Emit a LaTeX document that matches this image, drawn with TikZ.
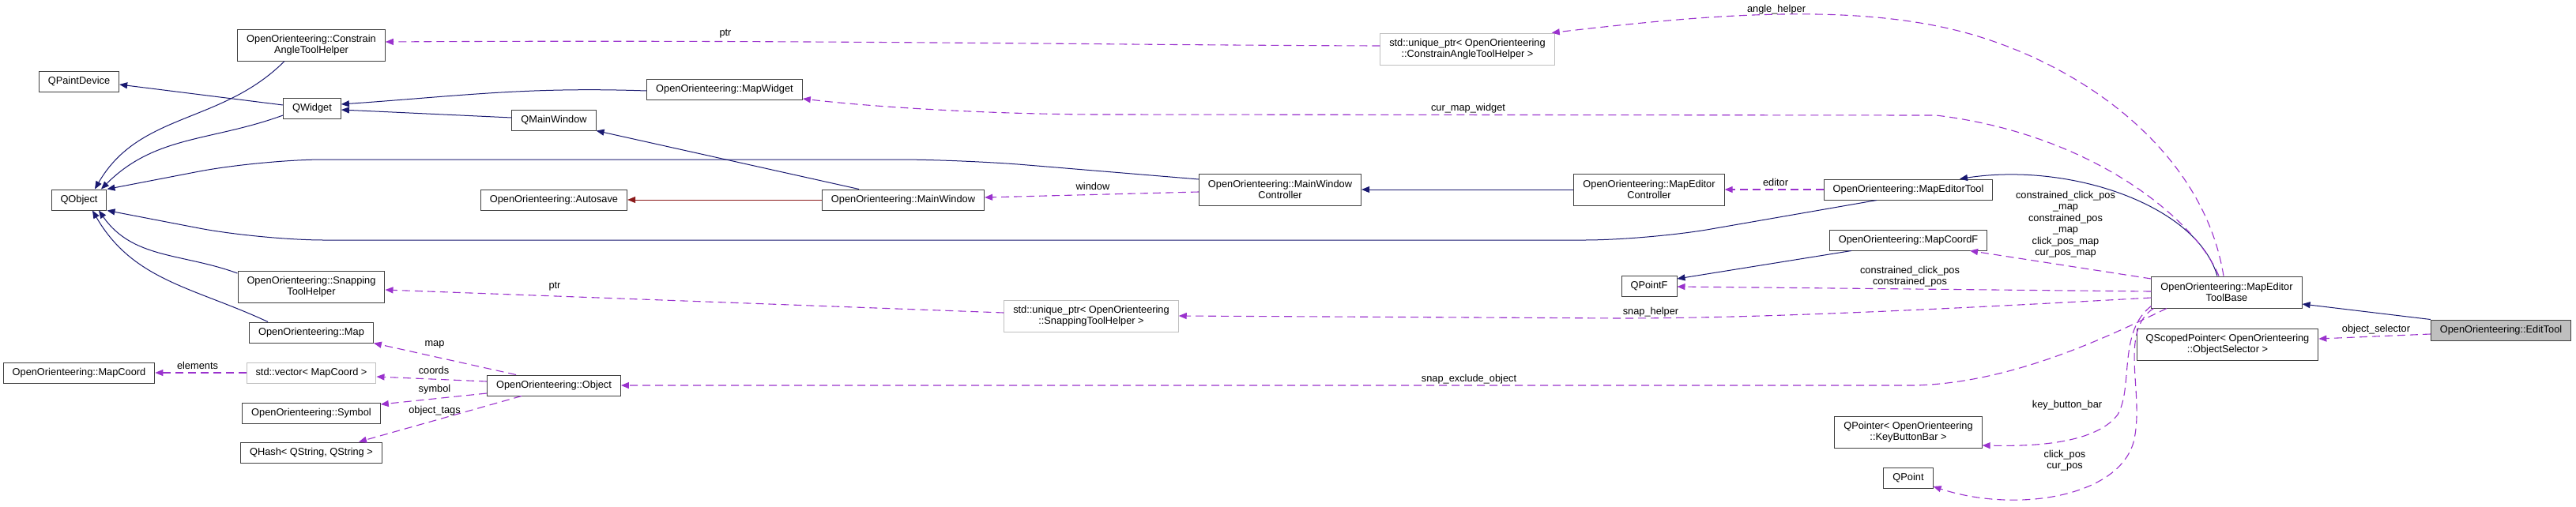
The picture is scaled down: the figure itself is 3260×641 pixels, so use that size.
\documentclass[tikz,border=0pt]{standalone}
\usepackage{fontspec}
\newfontfamily\dxfont{Liberation Sans}
\usepackage{xcolor}
\definecolor{dxblue}{RGB}{25,25,112}
\definecolor{dxpurple}{RGB}{154,50,205}
\definecolor{dxred}{RGB}{139,26,26}
\definecolor{dxgray}{RGB}{191,191,191}
\usepackage{tikz}
\usetikzlibrary{
  arrows.meta
}

\begin{document}
\begin{tikzpicture}[
  x=1pt, y=-1pt,
  cls/.style={
    draw=black!75, fill=white, line width=1pt,
    font=\dxfont\fontsize{12.8}{14.5}\selectfont,
    inner xsep=11.5pt, inner ysep=2pt, minimum height=26pt, align=center
  },
  cls2/.style={cls, minimum height=40pt},
  ext/.style={draw=dxgray},
  cur/.style={fill=dxgray},
  inh/.style={-{Triangle[length=10pt,width=8pt]}, dxblue, line width=1pt},
  priv/.style={inh, dxred},
  use/.style={
    -{Triangle[length=10pt,width=8pt]}, dxpurple, line width=1.1pt,
    dash pattern=on 10pt off 6pt
  },
  lbl/.style={font=\dxfont\fontsize{12.8}{14.5}\selectfont, inner sep=0pt, align=center},
]
\useasboundingbox (0,0) rectangle (3260,641);

% Classes, placed at the pixel positions of the graph
\node[cls] (qpaintdevice) at (100,103) {QPaintDevice};
\node[cls] (qobject) at (100,253) {QObject};
\node[cls] (mapcoord) at (100,472) {OpenOrienteering::MapCoord};
\node[cls2] (constrainhelper) at (394,57) {OpenOrienteering::Constrain\\AngleToolHelper};
\node[cls] (qwidget) at (395,137) {QWidget};
\node[cls2] (snappinghelper) at (394,363) {OpenOrienteering::Snapping\\ToolHelper};
\node[cls] (map) at (394,421) {OpenOrienteering::Map};
\node[cls, ext] (coordvector) at (394,472) {std::vector< MapCoord >};
\node[cls] (symbol) at (394,523) {OpenOrienteering::Symbol};
\node[cls] (tagshash) at (394,573) {QHash< QString, QString >};
\node[cls] (qmainwindow) at (701,152) {QMainWindow};
\node[cls] (autosave) at (701,253) {OpenOrienteering::Autosave};
\node[cls] (object) at (701,488) {OpenOrienteering::Object};
\node[cls] (mapwidget) at (917,113) {OpenOrienteering::MapWidget};
\node[cls] (mainwindow) at (1143,253) {OpenOrienteering::MainWindow};
\node[cls2, ext] (snapptr) at (1381,400) {std::unique\_ptr< OpenOrienteering\\::SnappingToolHelper >};
\node[cls2] (mwcontroller) at (1620,240) {OpenOrienteering::MainWindow\\Controller};
\node[cls2, ext] (angleptr) at (1857,62) {std::unique\_ptr< OpenOrienteering\\::ConstrainAngleToolHelper >};
\node[cls2] (mecontroller) at (2087,240) {OpenOrienteering::MapEditor\\Controller};
\node[cls] (qpointf) at (2087,362) {QPointF};
\node[cls] (editortool) at (2415,240) {OpenOrienteering::MapEditorTool};
\node[cls] (mapcoordf) at (2415,304) {OpenOrienteering::MapCoordF};
\node[cls2] (keybarptr) at (2415,547) {QPointer< OpenOrienteering\\::KeyButtonBar >};
\node[cls] (qpoint) at (2415,605) {QPoint};
\node[cls2] (toolbase) at (2818,370) {OpenOrienteering::MapEditor\\ToolBase};
\node[cls2] (selectorptr) at (2819,436) {QScopedPointer< OpenOrienteering\\::ObjectSelector >};
\node[cls, cur] (edittool) at (3165,418) {OpenOrienteering::EditTool};

% Inheritance
\draw[inh] ([yshift=4pt]qwidget.west) -- ([yshift=-4pt]qpaintdevice.east);
\draw[inh] ([yshift=-9pt]qwidget.west) to[out=200,in=45] ([xshift=28pt]qobject.north);
\draw[inh] ([xshift=-34pt]constrainhelper.south) to[out=225,in=60] ([xshift=20pt]qobject.north);
\draw[inh, rounded corners=80pt] ([yshift=13pt]mwcontroller.west) -- (1216,202) -- (330,202) -- (qobject.north east);
\draw[inh, rounded corners=80pt] ([xshift=-40pt]editortool.south) -- (2085,304) -- (330,304) -- (qobject.south east);
\draw[inh] ([yshift=17pt]snappinghelper.west) to[out=160,in=-55] ([xshift=25pt]qobject.south);
\draw[inh] ([xshift=-55pt]map.north) to[out=155,in=-60] ([xshift=17pt]qobject.south);
\draw[inh] ([yshift=3pt]qmainwindow.west) -- ([yshift=-2pt]qwidget.east);
\draw[inh] ([yshift=-2pt]mapwidget.west) to[out=178,in=4] ([yshift=5pt]qwidget.east);
\draw[inh] ([xshift=-56pt]mainwindow.north) -- (qmainwindow.south east);
\draw[priv] (mainwindow.west) -- (autosave.east);
\draw[inh] (mecontroller.west) -- (mwcontroller.east);
\draw[inh] ([xshift=-12pt]toolbase.north) .. controls (2780,260) and (2620,205) .. ([xshift=65pt]editortool.north);
\draw[inh] (edittool.north west) -- ([yshift=-15pt]toolbase.east);
\draw[inh] ([xshift=-72pt]mapcoordf.south) -- ([yshift=9pt]qpointf.east);

% Usage
\draw[use] ([yshift=4pt]angleptr.west) .. controls (1400,57) and (1000,50) .. ([yshift=4pt]constrainhelper.east);
\node[lbl] (lptrangle) at (918,43) {ptr};
\draw[use] ([xshift=-4pt]toolbase.north) .. controls (2790,200) and (2650,90) .. (2500,45)
  .. controls (2350,0) and (2150,20) .. ([xshift=-4pt]angleptr.north east);
\node[lbl] (langle) at (2248,12) {angle\_helper};
\draw[use] ([xshift=-10pt]toolbase.north) .. controls (2780,280) and (2650,170) .. (2450,146)
  -- (1400,145) .. controls (1250,145) and (1100,135) .. ([yshift=-12pt]mapwidget.east);
\node[lbl] (lwidget) at (1858,137) {cur\_map\_widget};
\draw[use] (editortool.west) -- (mecontroller.east);
\node[lbl] (leditor) at (2247,231) {editor};
\draw[use] ([yshift=-3pt]mwcontroller.west) -- ([yshift=3pt]mainwindow.east);
\node[lbl] (lwindow) at (1383,236) {window};
\draw[use] ([yshift=17pt]toolbase.west) -- ([xshift=78pt]mapcoordf.south);
\node[lbl] (lcoordf) at (2614,284) {constrained\_click\_pos\\\_map\\constrained\_pos\\\_map\\click\_pos\_map\\cur\_pos\_map};
\draw[use] ([yshift=1pt]toolbase.west) -- ([yshift=-1pt]qpointf.east);
\node[lbl] (lpointf) at (2417,350) {constrained\_click\_pos\\constrained\_pos};
\draw[use] ([yshift=-7pt]toolbase.west) .. controls (2400,395) and (2200,403) .. (2050,403) -- (snapptr.east);
\node[lbl] (lsnap) at (2089,395) {snap\_helper};
\draw[use] ([yshift=4pt]snapptr.west) -- ([yshift=-4pt]snappinghelper.east);
\node[lbl] (lptrsnap) at (702,363) {ptr};
\draw[use] ([xshift=-76pt]toolbase.south) .. controls (2680,420) and (2550,486) .. (2420,488) -- (object.east);
\node[lbl] (lexclude) at (1859,480) {snap\_exclude\_object};
\draw[use] ([yshift=3pt]toolbase.south west) .. controls (2680,420) and (2700,490) .. (2680,525)
  .. controls (2650,565) and (2560,565) .. ([yshift=-17pt]keybarptr.east);
\node[lbl] (lkeybar) at (2616,513) {key\_button\_bar};
\draw[use] ([xshift=3pt]toolbase.south west) .. controls (2680,420) and (2715,500) .. (2700,560)
  .. controls (2680,630) and (2550,650) .. ([yshift=-11pt]qpoint.east);
\node[lbl] (lpoint) at (2613,583) {click\_pos\\cur\_pos};
\draw[use] ([yshift=-5pt]edittool.west) -- ([yshift=7pt]selectorptr.east);
\node[lbl] (lselector) at (3007,417) {object\_selector};
\draw[use] ([xshift=-48pt]object.north) -- (map.south east);
\node[lbl] (lmap) at (550,436) {map};
\draw[use] ([yshift=5pt]object.west) -- ([yshift=-5pt]coordvector.east);
\node[lbl] (lcoords) at (549,469) {coords};
\draw[use] ([yshift=-10pt]object.west) -- ([yshift=11pt]symbol.east);
\node[lbl] (lsymbol) at (550,493) {symbol};
\draw[use] ([xshift=-41pt]object.south) -- ([xshift=60pt]tagshash.north);
\node[lbl] (ltags) at (550,520) {object\_tags};
\draw[use] (coordvector.west) -- (mapcoord.east);
\node[lbl] (lelements) at (250,463) {elements};

\end{tikzpicture}
\end{document}
